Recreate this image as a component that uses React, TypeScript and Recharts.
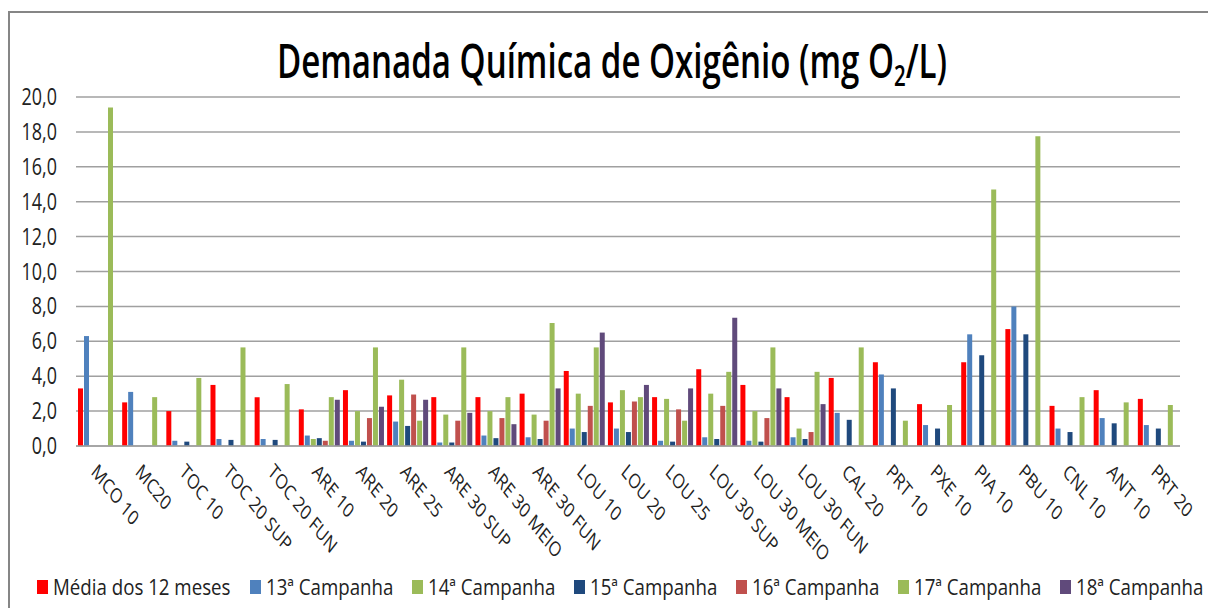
import React from 'react'
import { BarChart, Bar, XAxis, YAxis, CartesianGrid } from 'recharts'

const pontos = [
  'MCO 10', 'MC20', 'TOC 10', 'TOC 20 SUP', 'TOC 20 FUN', 'ARE 10', 'ARE 20', 'ARE 25',
  'ARE 30 SUP', 'ARE 30 MEIO', 'ARE 30 FUN', 'LOU 10', 'LOU 20', 'LOU 25', 'LOU 30 SUP',
  'LOU 30 MEIO', 'LOU 30 FUN', 'CAL 20', 'PRT 10', 'PXE 10', 'PIA 10', 'PBU 10', 'CNL 10',
  'ANT 10', 'PRT 20',
]

const media12 = [3.3, 2.5, 2.0, 3.5, 2.8, 2.1, 3.2, 2.9, 2.8, 2.8, 3.0, 4.3, 2.5, 2.8, 4.4, 3.5, 2.8, 3.9, 4.8, 2.4, 4.8, 6.7, 2.3, 3.2, 2.7]
const camp13 = [6.3, 3.1, 0.3, 0.4, 0.4, 0.6, 0.3, 1.4, 0.2, 0.6, 0.5, 1.0, 1.0, 0.3, 0.5, 0.3, 0.5, 1.9, 4.1, 1.2, 6.4, 8.0, 1.0, 1.6, 1.2]
const camp14 = [null, null, null, null, null, 0.4, 2.0, 3.8, 1.8, 2.0, 1.8, 3.0, 3.2, 2.7, 3.0, 2.0, 1.0, null, null, null, null, null, null, null, null]
const camp15 = [null, null, 0.25, 0.35, 0.35, 0.45, 0.25, 1.15, 0.2, 0.45, 0.4, 0.8, 0.8, 0.25, 0.4, 0.25, 0.4, 1.5, 3.3, 1.0, 5.2, 6.4, 0.8, 1.3, 1.0]
const camp16 = [null, null, null, null, null, 0.3, 1.6, 2.95, 1.45, 1.6, 1.45, 2.3, 2.55, 2.1, 2.3, 1.6, 0.8, null, null, null, null, null, null, null, null]
const camp17 = [19.4, 2.8, 3.9, 5.65, 3.55, 2.8, 5.65, 1.45, 5.65, 2.8, 7.05, 5.65, 2.8, 1.45, 4.25, 5.65, 4.25, 5.65, 1.45, 2.35, 14.7, 17.75, 2.8, 2.5, 2.35]
const camp18 = [null, null, null, null, null, 2.65, 2.25, 2.65, 1.9, 1.25, 3.3, 6.5, 3.5, 3.3, 7.35, 3.3, 2.4, null, null, null, null, null, null, null, null]

const yTicks = [0, 2, 4, 6, 8, 10, 12, 14, 16, 18, 20]

const series = [
  { key: 'media', name: 'Média dos 12 meses', color: '#FF0000', values: media12 },
  { key: 'c13', name: '13ª Campanha', color: '#4F81BD', values: camp13 },
  { key: 'c14', name: '14ª Campanha', color: '#9BBB59', values: camp14 },
  { key: 'c15', name: '15ª Campanha', color: '#1F497D', values: camp15 },
  { key: 'c16', name: '16ª Campanha', color: '#C0504D', values: camp16 },
  { key: 'c17', name: '17ª Campanha', color: '#9BBB59', values: camp17 },
  { key: 'c18', name: '18ª Campanha', color: '#604A7B', values: camp18 },
]

const data = pontos.map((p, i) => {
  const row: Record<string, string | number | null> = { ponto: p }
  series.forEach(s => { row[s.key] = s.values[i] })
  return row
})

const FONT = "'Open Sans', sans-serif"
const SX = 0.78

function YTick({ x, y, payload }: any) {
  return (
    <g transform={`translate(${x - 11},${y + 8}) scale(${SX},1)`}>
      <text x={0} y={0} textAnchor="end" fontSize={23} fontFamily={FONT} fill="#222">
        {payload.value.toFixed(1).replace('.', ',')}
      </text>
    </g>
  )
}

function XTick({ x, y, payload }: any) {
  return (
    <g transform={`translate(${x},${y + 9}) scale(${SX},1) rotate(45)`}>
      <text x={0} y={0} dy={14} textAnchor="start" fontSize={20.5} fontFamily={FONT} fill="#222">
        {payload.value}
      </text>
    </g>
  )
}

// legenda desenhada à parte, em linha, como no original
function LegendBox() {
  let cx = 37
  return (
    <svg width={1208} height={44} style={{ position: 'absolute', left: 0, top: 564 }}>
      {series.map((s, i) => {
        const w = i === 0 ? 176 : 125
        const sqX = cx
        cx = sqX + 16 + w + 21
        return (
          <g key={s.key}>
            <rect x={sqX} y={16} width={11} height={14} fill={s.color} />
            <g transform={`translate(${sqX + 16},31) scale(0.85,1)`}>
              <text x={0} y={0} fontSize={22} fontFamily={FONT} fill="#222">{s.name}</text>
            </g>
          </g>
        )
      })}
    </svg>
  )
}

export default function App() {
  return (
    <div style={{ position: 'absolute', left: 0, top: 0, width: 1208, height: 608, overflow: 'hidden', background: '#fff' }}>
      <div style={{ position: 'absolute', left: 8, top: 11, width: 1260, height: 660, border: '2px solid #868686', boxSizing: 'border-box' }} />
      <svg width={1208} height={100} style={{ position: 'absolute', left: 0, top: 0 }}>
        <text x={277} y={78} fontSize={47} fontWeight={600} fontFamily={FONT} fill="#000"
          textLength={670} lengthAdjust="spacingAndGlyphs">
          Demanada Química de Oxigênio (mg O<tspan fontSize={29} dy={8}>2</tspan><tspan fontSize={47} dy={-8}>/L)</tspan>
        </text>
      </svg>
      <div style={{ position: 'absolute', left: 0, top: 0 }}>
        <BarChart width={1208} height={608} data={data} barSize={5} barGap={1}
          margin={{ top: 97, right: 28, left: 0, bottom: 42 }}>
          <CartesianGrid vertical={false} stroke="#a0a0a0" strokeWidth={1.5} />
          <XAxis dataKey="ponto" interval={0} height={120} tickLine={false}
            axisLine={{ stroke: '#a0a0a0', strokeWidth: 1.5 }} tick={<XTick />} />
          <YAxis width={76} domain={[0, 20]} ticks={yTicks} tickLine={false} axisLine={false} tick={<YTick />} />
          {series.map(s => (
            <Bar key={s.key} dataKey={s.key} name={s.name} fill={s.color} isAnimationActive={false} />
          ))}
        </BarChart>
      </div>
      <LegendBox />
    </div>
  )
}
